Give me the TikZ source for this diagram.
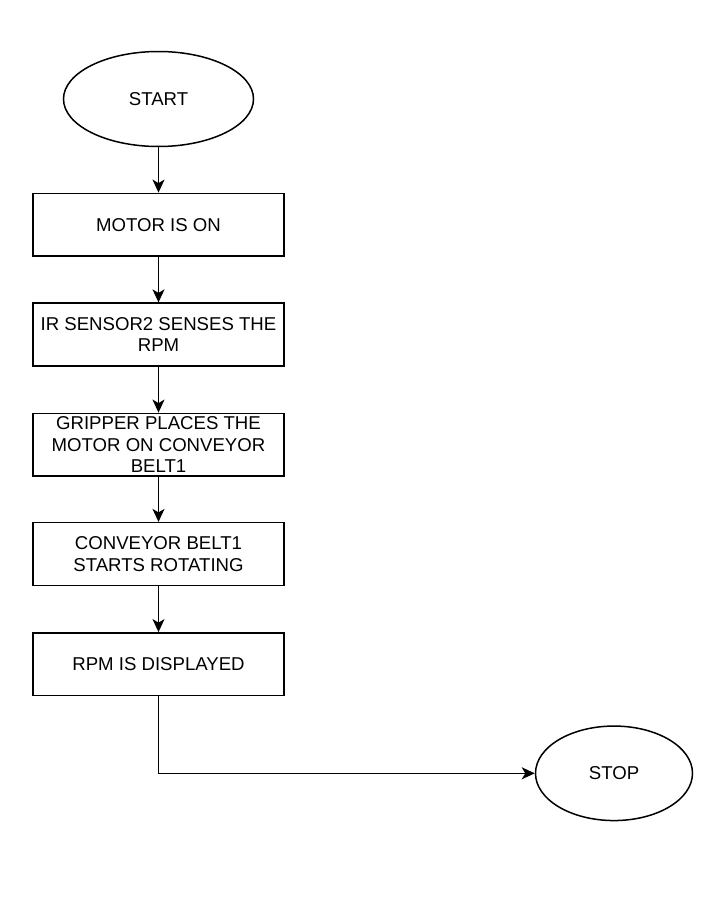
\documentclass[tikz,border=0pt]{standalone}
\usepackage{fontspec}
\setmainfont{Liberation Sans}
\usetikzlibrary{shapes.geometric,arrows.meta}
\begin{document}
\begin{tikzpicture}[x=1pt,y=-1pt,
  every node/.style={font=\fontsize{18.6}{21.7}\selectfont, text=black},
  procbox/.style={draw, line width=1.5pt, rectangle, minimum width=251pt, minimum height=62.7pt, inner sep=0pt, align=center},
  term/.style={draw, line width=1.5pt, ellipse, inner sep=0pt},
  flow/.style={line width=1.5pt, -{Stealth[length=13pt,width=12pt,inset=3.5pt]}}]
\useasboundingbox (0,0) rectangle (719,902);
\node[term, minimum width=190pt, minimum height=95pt] (start) at (158.5,99) {START};
\node[procbox] (motor) at (158.5,224.7) {MOTOR IS ON};
\node[procbox] (ir) at (158.5,334.5) {IR SENSOR2 SENSES THE\\RPM};
\node[procbox] (grip) at (158.5,444.7) {GRIPPER PLACES THE\\MOTOR ON CONVEYOR\\BELT1};
\node[procbox] (conv) at (158.5,554) {CONVEYOR BELT1\\STARTS ROTATING};
\node[procbox] (rpm) at (158.5,664.2) {RPM IS DISPLAYED};
\node[term, minimum width=157pt, minimum height=94.5pt] (stop) at (614,773.3) {STOP};
\draw[flow] (start) -- (motor);
\draw[flow] (motor) -- (ir);
\draw[flow] (ir) -- (grip);
\draw[flow] (grip) -- (conv);
\draw[flow] (conv) -- (rpm);
\draw[flow] (rpm.south) |- (stop.west);
\end{tikzpicture}
\end{document}
